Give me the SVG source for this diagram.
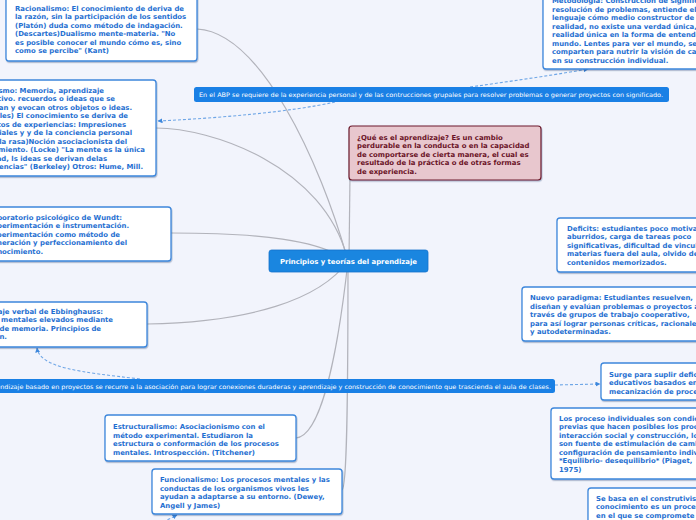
<svg xmlns="http://www.w3.org/2000/svg" width="696" height="520" viewBox="0 0 696 520">
<style>
.bg{fill:#f2f4fc}
.node{fill:#ffffff;stroke:#3d87dc;stroke-width:1.3}
.t{font-family:"DejaVu Sans",Verdana,sans-serif;font-weight:bold;font-size:6.9px;fill:#1f6fd1}
.te{font-family:"DejaVu Sans",Verdana,sans-serif;font-weight:bold;font-size:6.9px;fill:#1f6fd1;text-anchor:end}
.pink{fill:#e8c7ce;stroke:#6d1a2c;stroke-width:1.2}
.tp{font-family:"DejaVu Sans",Verdana,sans-serif;font-weight:bold;font-size:6.9px;fill:#6a1226}
.pill{fill:#1a80e5}
.tl{font-family:"DejaVu Sans",Verdana,sans-serif;font-size:6.1px;fill:#ffffff}
.center{fill:#1a86e0;stroke:#1572cc;stroke-width:0.8}
.tc{font-family:"DejaVu Sans",Verdana,sans-serif;font-weight:bold;font-size:6.9px;fill:#ffffff;text-anchor:middle}
.conn{fill:none;stroke:#b2b3bb;stroke-width:1.2}
.dash{fill:none;stroke:#6fa6e6;stroke-width:1.1;stroke-dasharray:3 2}
</style>
<defs>
<filter id="sh" x="-10%" y="-10%" width="120%" height="130%">
<feDropShadow dx="0.6" dy="1.2" stdDeviation="0.6" flood-color="#1a3a70" flood-opacity="0.35"/>
</filter>
<marker id="arr" viewBox="0 0 10 10" refX="9" refY="5" markerWidth="5" markerHeight="5" orient="auto" markerUnits="userSpaceOnUse">
<path d="M0,0 L10,5 L0,10 z" fill="#3d87dc"/>
</marker>
</defs>
<rect class="bg" x="0" y="0" width="696" height="520"/>

<g id="connectors">
<path class="conn" d="M197,29 C260,32 320,160 348,261"/>
<path class="conn" d="M156,128 C210,128 325,165 348,261"/>
<path class="conn" d="M350,175 L349,261"/>
<path class="conn" d="M171,233 C260,233 320,240 348,261"/>
<path class="conn" d="M147,324 C250,322 320,300 348,261"/>
<path class="conn" d="M296,438 C320,436 337,360 348,261"/>
<path class="conn" d="M342,490 C347,488 348,400 348,261"/>
<path class="dash" d="M335,102 C290,112 220,118 158,121" marker-end="url(#arr)"/>
<path class="dash" d="M470,87 C520,80 560,74 588,69" marker-end="url(#arr)"/>
<path class="dash" d="M140,379 C80,372 40,368 37,348" marker-end="url(#arr)"/>
<path class="dash" d="M555,385 L600,384" marker-end="url(#arr)"/>
<path class="dash" d="M163,522 L177,515" marker-end="url(#arr)"/>
</g>

<g id="racionalismo">
<rect class="node" filter="url(#sh)" x="6" y="-10" width="191" height="71" rx="3"/>
<text class="t" x="15" y="10.5">Racionalismo: El conocimiento de deriva de</text>
<text class="t" x="15" y="19">la razón, sin la participación de los sentidos</text>
<text class="t" x="15" y="27.5">(Platón) duda como método de indagación.</text>
<text class="t" x="15" y="36">(Descartes)Dualismo mente-materia. "No</text>
<text class="t" x="15" y="44.5">es posible conocer el mundo cómo es, sino</text>
<text class="t" x="15" y="53">como se percibe" (Kant)</text>
</g>

<g id="metodologia">
<rect class="node" filter="url(#sh)" x="543" y="-10" width="200" height="79" rx="3"/>
<text class="t" x="552" y="3">Metodología: Construcción de significado,</text>
<text class="t" x="552" y="11.5">resolución de problemas, entiende el</text>
<text class="t" x="552" y="20">lenguaje cómo medio constructor de la</text>
<text class="t" x="552" y="28.5">realidad, no existe una verdad única,</text>
<text class="t" x="552" y="37">realidad única en la forma de entender el</text>
<text class="t" x="552" y="45.5">mundo. Lentes para ver el mundo, se</text>
<text class="t" x="552" y="54">comparten para nutrir la visión de cada uno</text>
<text class="t" x="552" y="62.5">en su construcción individual.</text>
</g>

<g id="empirismo">
<rect class="node" filter="url(#sh)" x="-40" y="80" width="196" height="96" rx="3"/>
<text class="te" x="104" y="92.5">Empirismo: Memoria, aprendizaje</text>
<text class="te" x="115" y="101">asociativo. recuerdos o ideas que se</text>
<text class="te" x="132" y="109.5">relacionan y evocan otros objetos o ideas.</text>
<text class="te" x="128" y="118">(Aristóteles) El conocimiento se deriva de</text>
<text class="te" x="126" y="126.5">los datos de experiencias: Impresiones</text>
<text class="te" x="132" y="135">sensoriales y y de la conciencia personal</text>
<text class="te" x="127" y="143.5">(tabula rasa)Noción asociacionista del</text>
<text class="te" x="145" y="152">conocimiento. (Locke) "La mente es la única</text>
<text class="te" x="107" y="160.5">realidad, ls ideas se derivan delas</text>
<text class="te" x="143" y="169">experiencias" (Berkeley) Otros: Hume, Mill.</text>
</g>

<g id="abp-label">
<rect class="pill" x="194" y="87" width="475" height="15" rx="2.5"/>
<text class="tl" x="199" y="97" textLength="464" lengthAdjust="spacingAndGlyphs">En el ABP se requiere de la experiencia personal y de las contrucciones grupales para resolver problemas o generar proyectos con significado.</text>
</g>

<g id="que-es">
<rect class="pink" filter="url(#sh)" x="349" y="126" width="192" height="54" rx="3"/>
<text class="tp" x="357" y="139.5">¿Qué es el aprendizaje? Es un cambio</text>
<text class="tp" x="357" y="148">perdurable en la conducta o en la capacidad</text>
<text class="tp" x="357" y="156.5">de comportarse de cierta manera, el cual es</text>
<text class="tp" x="357" y="165">resultado de la práctica o de otras formas</text>
<text class="tp" x="357" y="173.5">de experiencia.</text>
</g>

<g id="wundt">
<rect class="node" filter="url(#sh)" x="-20" y="207" width="191" height="54" rx="3"/>
<text class="te" x="122" y="219.5">Laboratorio psicológico de Wundt:</text>
<text class="te" x="129" y="228">Experimentación e instrumentación.</text>
<text class="te" x="120" y="236.5">Experimentación como método de</text>
<text class="te" x="127" y="245">generación y perfeccionamiento del</text>
<text class="te" x="43" y="253.5">conocimiento.</text>
</g>

<g id="principios">
<rect class="center" x="269" y="250" width="159" height="22" rx="2.5"/>
<text class="tc" x="348.5" y="263.5">Principios y teorías del aprendizaje</text>
</g>

<g id="deficits">
<rect class="node" filter="url(#sh)" x="557" y="218" width="200" height="54" rx="3"/>
<text class="t" x="567" y="230.5">Deficits: estudiantes poco motivados,</text>
<text class="t" x="567" y="239">aburridos, carga de tareas poco</text>
<text class="t" x="567" y="247.5">significativas, dificultad de vincular las</text>
<text class="t" x="567" y="256">materias fuera del aula, olvido de</text>
<text class="t" x="567" y="264.5">contenidos memorizados.</text>
</g>

<g id="nuevo-paradigma">
<rect class="node" filter="url(#sh)" x="522" y="287" width="200" height="54" rx="3"/>
<text class="t" x="530" y="300">Nuevo paradigma: Estudiantes resuelven,</text>
<text class="t" x="530" y="308.5">diseñan y evalúan problemas o proyectos a</text>
<text class="t" x="530" y="317">través de grupos de trabajo cooperativo,</text>
<text class="t" x="530" y="325.5">para así lograr personas críticas, racionales</text>
<text class="t" x="530" y="334">y autodeterminadas.</text>
</g>

<g id="ebbinghaus">
<rect class="node" filter="url(#sh)" x="-50" y="302" width="197" height="45" rx="3"/>
<text class="te" x="103" y="313.5">Aprendizaje verbal de Ebbinghauss:</text>
<text class="te" x="113" y="322">Procesos mentales elevados mediante</text>
<text class="te" x="101" y="330.5">estudio de memoria. Principios de</text>
<text class="te" x="7" y="339">asociación.</text>
</g>

<g id="abp-label-2">
<rect class="pill" x="-30" y="379" width="585" height="14" rx="2.5"/>
<text class="tl" x="-22.5" y="388.5" textLength="573.5" lengthAdjust="spacingAndGlyphs">El aprendizaje basado en proyectos se  recurre a la asociación para lograr conexiones duraderas y aprendizaje y construcción de conocimiento que trascienda el aula de clases.</text>
</g>

<g id="surge">
<rect class="node" filter="url(#sh)" x="601" y="363" width="200" height="37" rx="3"/>
<text class="t" x="609" y="376.5">Surge para suplir deficiencias en modelos</text>
<text class="t" x="609" y="385">educativos basados en la</text>
<text class="t" x="609" y="393.5">mecanización de procesos.</text>
</g>

<g id="procesos-individuales">
<rect class="node" filter="url(#sh)" x="551" y="408" width="200" height="71" rx="3"/>
<text class="t" x="559" y="420.5">Los proceso individuales son condiciones</text>
<text class="t" x="559" y="429">previas que hacen posibles los procesos de</text>
<text class="t" x="559" y="437.5">interacción social y construcción, los cuales</text>
<text class="t" x="559" y="446">son fuente de estimulación de cambios en la</text>
<text class="t" x="559" y="454.5">configuración de pensamiento individual.</text>
<text class="t" x="559" y="463">*Equilibrio- desequilibrio* (Piaget,</text>
<text class="t" x="559" y="471.5">1975)</text>
</g>

<g id="estructuralismo">
<rect class="node" filter="url(#sh)" x="105" y="415" width="191" height="46" rx="3"/>
<text class="t" x="113" y="429">Estructuralismo: Asociacionismo con el</text>
<text class="t" x="113" y="437.5">método experimental. Estudiaron la</text>
<text class="t" x="113" y="446">estructura o conformación de los procesos</text>
<text class="t" x="113" y="454.5">mentales. Introspección. (Titchener)</text>
</g>

<g id="funcionalismo">
<rect class="node" filter="url(#sh)" x="152" y="469" width="190" height="45" rx="3"/>
<text class="t" x="160" y="482">Funcionalismo: Los procesos mentales y las</text>
<text class="t" x="160" y="490.5">conductas de los organismos vivos les</text>
<text class="t" x="160" y="499">ayudan a adaptarse a su entorno. (Dewey,</text>
<text class="t" x="160" y="507.5">Angell y James)</text>
</g>

<g id="se-basa">
<rect class="node" filter="url(#sh)" x="588" y="488" width="200" height="60" rx="3"/>
<text class="t" x="596" y="500.5">Se basa en el construtivismo, el</text>
<text class="t" x="596" y="509">conocimiento es un proceso</text>
<text class="t" x="596" y="517.5">en el que se compromete</text>
</g>
</svg>
